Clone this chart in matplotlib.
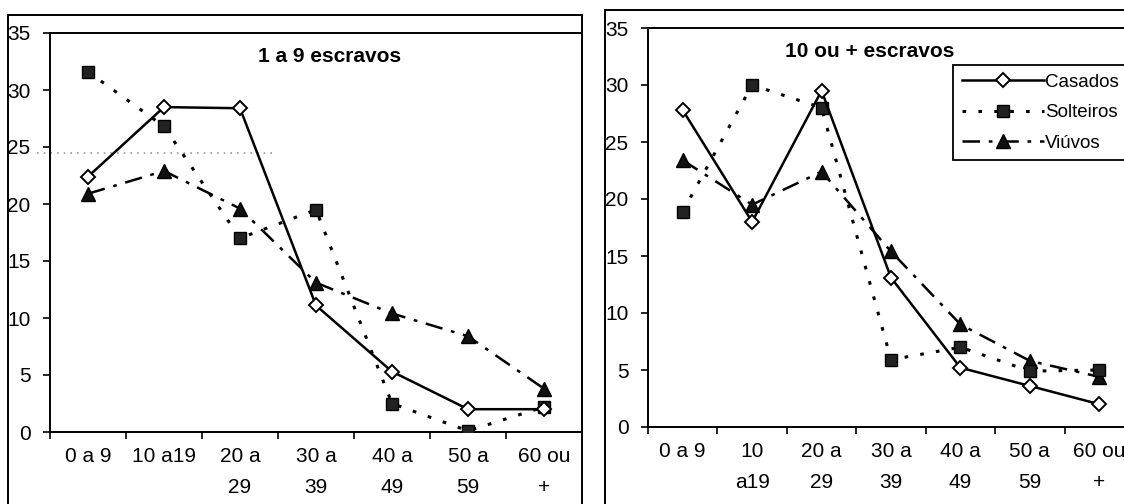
import matplotlib
matplotlib.use("Agg")
import matplotlib.pyplot as plt
from matplotlib.patches import Rectangle

plt.rcParams['font.family'] = ['Liberation Sans', 'DejaVu Sans']

# faixas etárias
labels_left = ["0 a 9", "10 a19", "20 a\n29", "30 a\n39", "40 a\n49", "50 a\n59", "60 ou\n+"]
labels_right = ["0 a 9", "10\na19", "20 a\n29", "30 a\n39", "40 a\n49", "50 a\n59", "60 ou\n+"]

# 1 a 9 escravos (%)
casados_1 = [22.4, 28.5, 28.4, 11.1, 5.3, 2.0, 2.0]
solteiros_1 = [31.6, 26.8, 17.0, 19.5, 2.5, 0.1, 2.2]
viuvos_1 = [20.9, 22.9, 19.6, 13.1, 10.4, 8.4, 3.8]

# 10 ou + escravos (%)
casados_2 = [27.8, 18.0, 29.5, 13.1, 5.2, 3.6, 2.0]
solteiros_2 = [18.9, 30.0, 28.0, 5.9, 7.0, 4.9, 5.0]
viuvos_2 = [23.4, 19.5, 22.4, 15.4, 9.0, 5.8, 4.4]

# linha pontilhada clara no painel da esquerda
faint_x = [-0.67, 2.49]
faint_y = [24.5, 24.5]

fig = plt.figure(figsize=(11.24, 5.04), dpi=100)
ax1 = fig.add_axes([50 / 1124, 1 - 432 / 504, 532 / 1124, 399 / 504])
ax2 = fig.add_axes([648 / 1124, 1 - 427 / 504, 486 / 1124, 399 / 504])

styles = dict(
    casados=dict(color='black', lw=1.8, ls='-', marker='D', ms=7.5,
                 mfc='white', mec='black', mew=1.4),
    solteiros=dict(color='black', lw=2.2, ls=(0, (1.2, 4.0)), marker='s', ms=8.5,
                   mfc='#222222', mec='black', mew=1.0),
    viuvos=dict(color='black', lw=1.8, ls=(0, (7, 3.5, 1.5, 3.5)), marker='^', ms=9.5,
                mfc='#111111', mec='black', mew=1.0),
)


def draw(ax, cas, sol, viu, labels, title, title_x):
    x = range(len(labels))
    ax.plot(x, viu, label='Viúvos', zorder=3, **styles['viuvos'])
    ax.plot(x, sol, label='Solteiros', zorder=4, **styles['solteiros'])
    ax.plot(x, cas, label='Casados', zorder=5, **styles['casados'])
    ax.set_xlim(-0.5, 6.5)
    ax.set_ylim(0, 35)
    ax.set_yticks(range(0, 36, 5))
    ax.set_xticks(list(x))
    ax.set_xticklabels(labels, fontsize=15, linespacing=1.75)
    ax.set_xticks([i - 0.5 for i in range(7)], minor=True)
    ax.tick_params(axis='x', which='major', length=0, pad=11)
    ax.tick_params(axis='x', which='minor', length=5, width=1.2, direction='out')
    ax.tick_params(axis='y', length=5, width=1.2, direction='out', pad=9, labelsize=15)
    for sp in ax.spines.values():
        sp.set_linewidth(1.4)
    ax.text(title_x, 0.94, title, transform=ax.transAxes, ha='center', va='center',
            fontsize=15, fontweight='bold')


draw(ax1, casados_1, solteiros_1, viuvos_1, labels_left, "1 a 9 escravos", 0.526)
draw(ax2, casados_2, solteiros_2, viuvos_2, labels_right, "10 ou + escravos", 0.457)

ax1.plot(faint_x, faint_y, color='#8a8a8a', lw=1.2, ls=(0, (1, 3)), alpha=0.85,
         clip_on=False, zorder=1)

handles, labs = ax2.get_legend_handles_labels()
order = [2, 1, 0]
leg = ax2.legend([handles[i] for i in order], [labs[i] for i in order],
                 loc='upper left', bbox_to_anchor=(0.628, 0.907), fontsize=13.5,
                 handlelength=4.4, handletextpad=0.05, labelspacing=0.72,
                 borderpad=0.45, borderaxespad=0, fancybox=False, framealpha=1)
leg.get_frame().set_edgecolor('black')
leg.get_frame().set_linewidth(1.3)

# molduras externas dos dois gráficos
fig.add_artist(Rectangle((8 / 1124, -0.05), 574 / 1124, 1 - 15 / 504 + 0.05,
                         transform=fig.transFigure, fill=False, lw=1.4,
                         edgecolor='black', clip_on=False))
fig.add_artist(Rectangle((605 / 1124, -0.05), 0.6, 1 - 10 / 504 + 0.05,
                         transform=fig.transFigure, fill=False, lw=1.4,
                         edgecolor='black', clip_on=False))

fig.savefig('out.png', dpi=100)
